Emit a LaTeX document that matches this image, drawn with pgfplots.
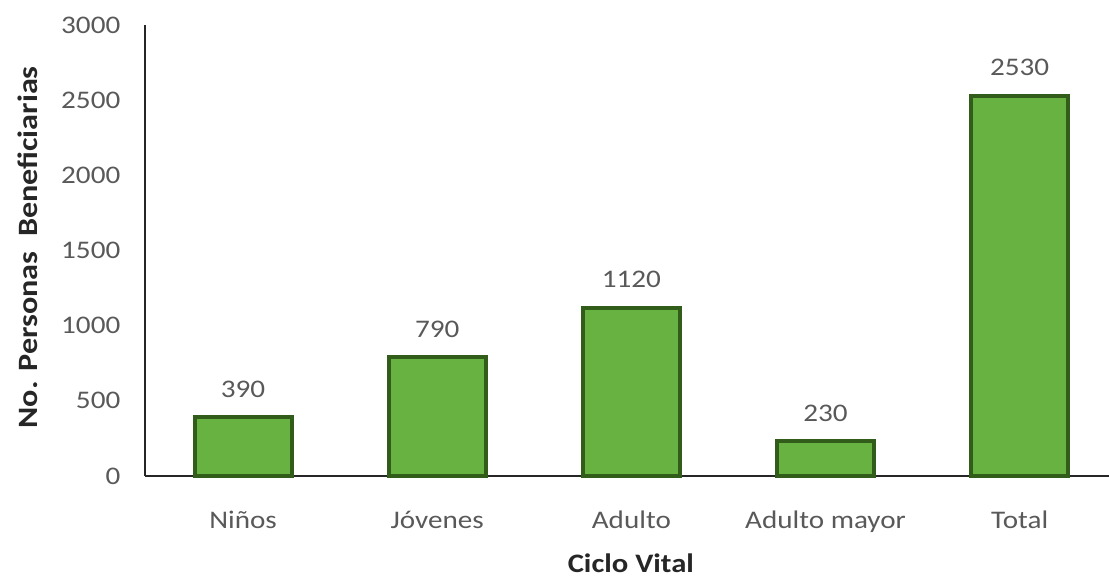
\documentclass[border=0pt]{standalone}
\usepackage{pgfplots}
\pgfplotsset{compat=1.18}
\usepackage{fontspec}
\setmainfont{Carlito}[FakeStretch=1.15]
\definecolor{barfill}{RGB}{104,178,66}
\definecolor{barline}{RGB}{50,92,26}
\definecolor{txtgray}{RGB}{89,89,89}
\begin{document}
\begin{tikzpicture}
\path[use as bounding box] (0pt,0pt) rectangle (831.75pt,432.75pt);
\begin{axis}[
  at={(108.75pt,75.75pt)}, anchor=south west,
  scale only axis,
  width=723pt, height=338.25pt,
  xmin=-0.505, xmax=4.46,
  ymin=0, ymax=3000,
  ytick={0,500,...,3000},
  xtick=data,
  xticklabels={Niños, Jóvenes, Adulto, Adulto mayor, Total},
  axis x line*=bottom,
  axis y line*=left,
  axis line style={line width=1.5pt, black!85, -},
  major tick length=0pt,
  tick style={draw=none},
  /pgf/number format/assume math mode=true,
  /pgf/number format/set thousands separator={},
  tick label style={font=\fontsize{19}{21}\selectfont, text=txtgray},
  yticklabel style={xshift=-15pt},
  xticklabel style={yshift=-23pt},
  xlabel={\textbf{Ciclo Vital}},
  ylabel={\textbf{No. Personas\ \ Beneficiarias}},
  xlabel style={font=\fontsize{20}{22}\selectfont, text=black!85,
    at={(axis description cs:0.504,-0.193)}, anchor=center},
  ylabel style={font=\fontsize{21}{23}\selectfont, text=black!85,
    at={(axis description cs:-0.1214,0.507)}, anchor=center},
  ybar, bar width=0.5,
  nodes near coords,
  nodes near coords style={font=\fontsize{19}{21}\selectfont, text=txtgray, yshift=10pt},
  clip=false,
]
\addplot[fill=barfill, draw=barline, line width=3pt] coordinates {
(0,390) (1,790) (2,1120) (3,230) (4,2530)
};
\end{axis}
\end{tikzpicture}
\end{document}
